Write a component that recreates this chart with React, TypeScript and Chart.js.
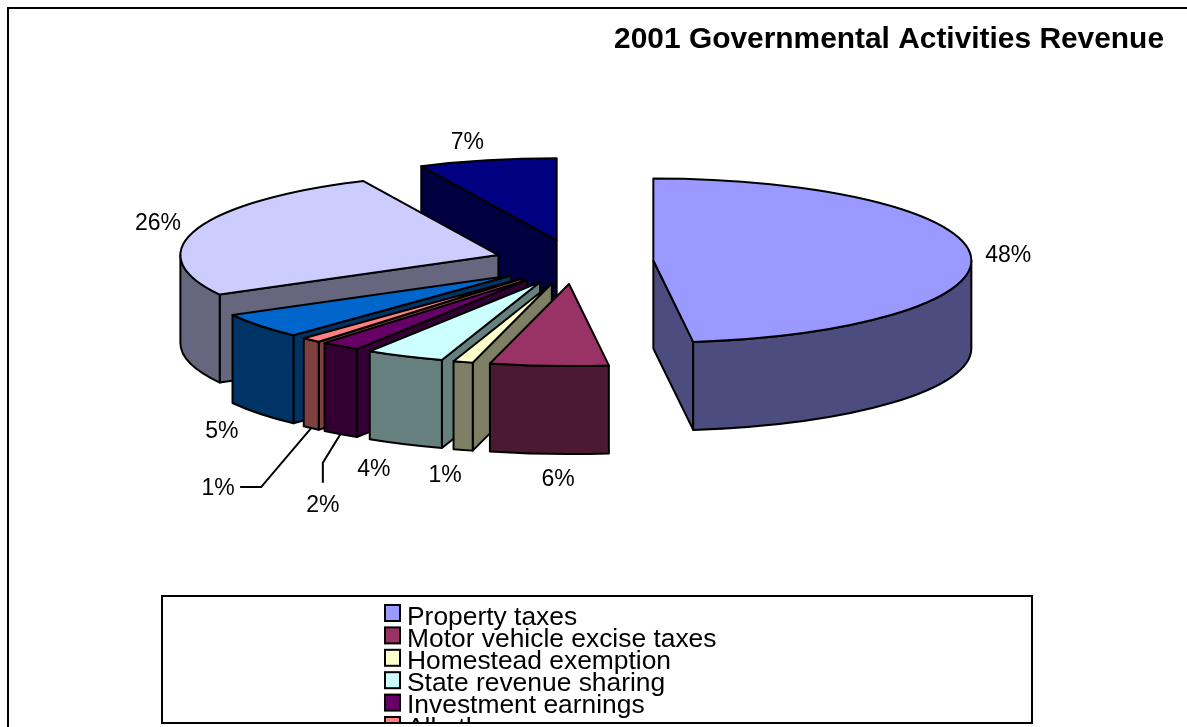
import React, { useEffect, useRef } from "react";
import { Chart, registerables } from "chart.js";

Chart.register(...registerables);

const TITLE = "2001 Governmental Activities Revenue";
const categories = [
  "Property taxes",
  "Motor vehicle excise taxes",
  "Homestead exemption",
  "State revenue sharing",
  "Investment earnings",
  "All other revenue",
  "Charges for services",
  "Operating grants",
  "Capital grants",
];
const shares = [48, 6, 1, 4, 2, 1, 5, 26, 7];
const palette = [
  "#9999FF", "#993366", "#FFFFCC", "#CCFFFF", "#660066",
  "#FF8080", "#0066CC", "#CCCCFF", "#000080",
];

// Where each percentage sits relative to the outer rim point of its slice.
const labelNudges: [number, number][] = [
  [37.5, 0], [9, 25.5], [-18, 25.5], [-31, 25.5], [-17.5, 71.5],
  [-93, 61], [-38, 18], [-38, -6.5], [-20, -17.5],
];
// Elbow and end of the leader lines, relative to the label they belong to.
const leaders: Record<number, [number, number][]> = {
  4: [[0, -43], [0, -23]],
  5: [[43, -2], [22, -2]],
};

const FONT = '"Liberation Sans", Arial, sans-serif';
const RADIUS = 318;
const TILT = 82 / RADIUS; // vertical squash of the pie's ellipse
const DEPTH = 88; // height of the extruded wall, px
const EXPLODE = 0.25 * RADIUS;
const EXPLODE_Y_GAIN = 1.08; // slices separate a little more front to back
const CENTER_SHIFT_X = -8; // the title keeps the right edge; the pie sits left of centre
const LINE = 2;
const LEGEND_BOX = { left: 162, top: 596, right: 1032, bottom: 723 };

function halfShade(hex: string): string {
  const n = parseInt(hex.slice(1), 16);
  const c = (v: number) => Math.floor(v / 2);
  return `rgb(${c((n >> 16) & 255)},${c((n >> 8) & 255)},${c(n & 255)})`;
}

// Geometry of one slice on the squashed, exploded pie.
function sliceGeometry(arc: any) {
  const { x, y, startAngle, endAngle, outerRadius } = arc.getProps([
    "x", "y", "startAngle", "endAngle", "outerRadius",
  ]);
  const mid = (startAngle + endAngle) / 2;
  const rx = outerRadius;
  const ry = outerRadius * TILT;
  const offset = arc.options.offset;
  const ax = x + CENTER_SHIFT_X + Math.cos(mid) * offset;
  const ay = y + Math.sin(mid) * offset * TILT * EXPLODE_Y_GAIN;
  return { ax, ay, rx, ry, startAngle, endAngle, mid };
}

function paintFace(ctx: CanvasRenderingContext2D, fill: string) {
  ctx.fillStyle = fill;
  ctx.fill();
  ctx.lineWidth = LINE;
  ctx.strokeStyle = "#000";
  ctx.lineJoin = "round";
  ctx.stroke();
}

function drawSlice(ctx: CanvasRenderingContext2D, arc: any) {
  const { ax, ay, rx, ry, startAngle: a0, endAngle: a1 } = sliceGeometry(arc);
  const top = arc.options.backgroundColor as string;
  const wall = halfShade(top);

  const sideWall = (a: number) => {
    const px = ax + Math.cos(a) * rx;
    const py = ay + Math.sin(a) * ry;
    ctx.beginPath();
    ctx.moveTo(ax, ay);
    ctx.lineTo(px, py);
    ctx.lineTo(px, py + DEPTH);
    ctx.lineTo(ax, ay + DEPTH);
    ctx.closePath();
    paintFace(ctx, wall);
  };

  // Only walls that turn towards the viewer are painted.
  if (Math.cos(a0) < -1e-6) sideWall(a0);
  if (Math.cos(a1) > 1e-6) sideWall(a1);

  for (let k = -1; k <= 1; k++) {
    const lo = Math.max(a0, k * 2 * Math.PI);
    const hi = Math.min(a1, Math.PI + k * 2 * Math.PI);
    if (hi > lo) {
      ctx.beginPath();
      ctx.ellipse(ax, ay, rx, ry, 0, lo, hi);
      ctx.ellipse(ax, ay + DEPTH, rx, ry, 0, hi, lo, true);
      ctx.closePath();
      paintFace(ctx, wall);
    }
  }

  ctx.beginPath();
  ctx.moveTo(ax, ay);
  ctx.ellipse(ax, ay, rx, ry, 0, a0, a1);
  ctx.closePath();
  paintFace(ctx, top);
}

const pie3d = {
  id: "pie3d",
  beforeDraw(chart: any) {
    const { ctx, width, height } = chart;
    ctx.save();
    ctx.fillStyle = "#fff";
    ctx.fillRect(0, 0, width, height);
    // Chart frame: it runs off the right and bottom of the page.
    ctx.strokeStyle = "#000";
    ctx.lineWidth = 2;
    ctx.beginPath();
    ctx.moveTo(8, height + 2);
    ctx.lineTo(8, 8);
    ctx.lineTo(width + 2, 8);
    ctx.stroke();
    ctx.restore();
  },
  beforeDatasetsDraw(chart: any) {
    const { ctx } = chart;
    const arcs = chart.getDatasetMeta(0).data as any[];
    // Painter's order: slices further back first.
    const order = arcs
      .map((arc, i) => ({ i, arc, y: sliceGeometry(arc).ay }))
      .sort((p, q) => p.y - q.y);
    ctx.save();
    order.forEach(({ arc }) => drawSlice(ctx, arc));
    ctx.restore();

    // Percent labels and leader lines.
    ctx.save();
    ctx.font = `23px ${FONT}`;
    ctx.fillStyle = "#000";
    ctx.textAlign = "center";
    ctx.textBaseline = "middle";
    arcs.forEach((arc, i) => {
      const { ax, ay, rx, ry, mid } = sliceGeometry(arc);
      const rimX = ax + Math.cos(mid) * rx;
      const rimY = ay + Math.sin(mid) * ry + (Math.sin(mid) > 0.5 ? DEPTH : 0);
      const lx = rimX + labelNudges[i][0];
      const ly = rimY + labelNudges[i][1];
      const value = chart.data.datasets[0].data[i];
      ctx.fillText(`${value}%`, lx, ly);
      const leader = leaders[i];
      if (leader) {
        ctx.beginPath();
        ctx.moveTo(rimX, rimY);
        leader.forEach(([dx, dy]) => ctx.lineTo(lx + dx, ly + dy));
        ctx.strokeStyle = "#000";
        ctx.lineWidth = LINE;
        ctx.stroke();
      }
    });
    ctx.restore();
    return false;
  },
  afterDraw(chart: any) {
    const { ctx } = chart;
    const b = LEGEND_BOX;
    ctx.save();
    ctx.beginPath();
    ctx.rect(b.left, b.top, b.right - b.left, b.bottom - b.top);
    ctx.clip();
    ctx.font = `26.4px ${FONT}`;
    ctx.textAlign = "left";
    ctx.textBaseline = "alphabetic";
    const arcs = chart.getDatasetMeta(0).data as any[];
    chart.data.labels.forEach((label: string, i: number) => {
      const rowTop = 605 + i * 22.4;
      ctx.fillStyle = arcs[i].options.backgroundColor;
      ctx.fillRect(385, rowTop, 15, 16);
      ctx.strokeStyle = "#000";
      ctx.lineWidth = LINE;
      ctx.strokeRect(385, rowTop, 15, 16);
      ctx.fillStyle = "#000";
      ctx.fillText(label, 407, 624.5 + i * 22.2);
    });
    ctx.restore();
    ctx.save();
    ctx.strokeStyle = "#000";
    ctx.lineWidth = 2;
    ctx.strokeRect(b.left, b.top, b.right - b.left, b.bottom - b.top);
    ctx.restore();
  },
};

export default function App() {
  const canvasRef = useRef<HTMLCanvasElement>(null);

  useEffect(() => {
    const chart = new Chart(canvasRef.current!, {
      type: "pie",
      data: {
        labels: categories,
        datasets: [
          {
            data: shares,
            backgroundColor: palette,
            borderWidth: 0,
            offset: EXPLODE,
            radius: RADIUS,
          } as any,
        ],
      },
      options: {
        responsive: false,
        animation: false,
        rotation: 0,
        layout: { padding: { left: 0, right: 23, top: 22, bottom: 261 } },
        plugins: {
          legend: { display: false },
          tooltip: { enabled: false },
          title: {
            display: true,
            text: TITLE,
            align: "end",
            color: "#000",
            padding: 0,
            font: { family: FONT, size: 29.9, weight: "bold" },
          },
        },
      },
      plugins: [pie3d],
    });
    return () => chart.destroy();
  }, []);

  return (
    <div style={{ position: "fixed", left: 0, top: 0, width: 1187, height: 727, overflow: "hidden", background: "#fff" }}>
      <canvas ref={canvasRef} width={1187} height={727} style={{ display: "block" }} />
    </div>
  );
}
